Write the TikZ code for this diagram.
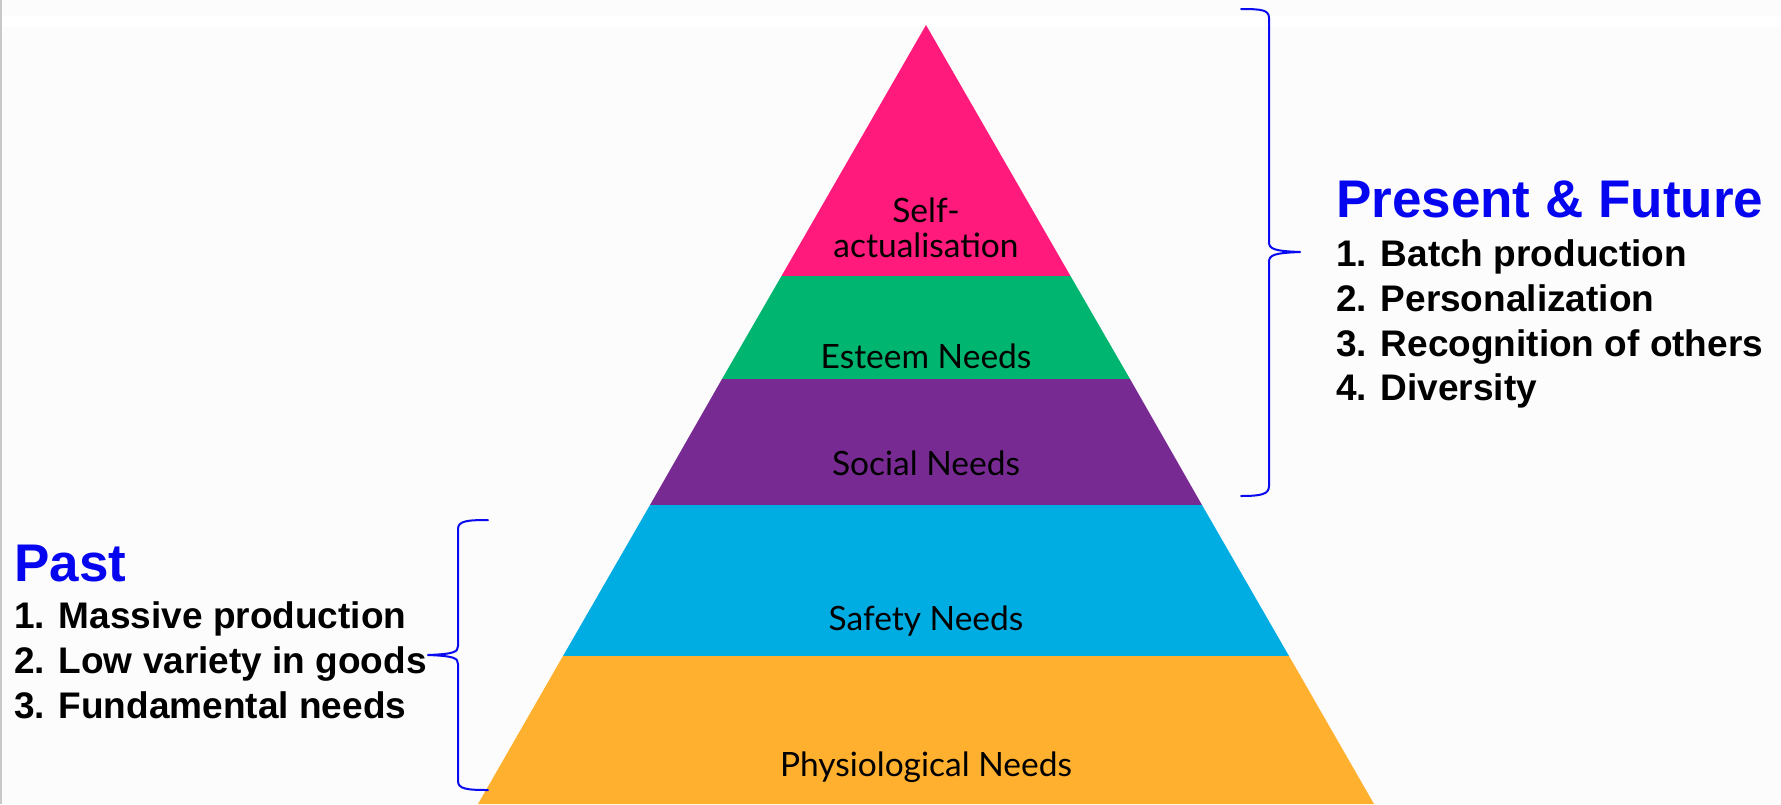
\documentclass[tikz,border=0pt]{standalone}
\usepackage{fontspec}
\setmainfont{Liberation Sans}
\newfontfamily\gillfont{Lato}
\definecolor{bgc}{RGB}{252,252,252}
\definecolor{edgegray}{RGB}{200,200,200}
\definecolor{lpink}{RGB}{255,26,124}
\definecolor{lgreen}{RGB}{0,181,112}
\definecolor{lpurple}{RGB}{119,43,146}
\definecolor{lblue}{RGB}{0,173,227}
\definecolor{lorange}{RGB}{255,176,46}
\definecolor{bracec}{RGB}{10,10,240}
\definecolor{titlec}{RGB}{5,5,240}
\tikzset{
  lbl/.style={inner sep=0pt, align=center, text=black, font=\gillfont\fontsize{33.5}{35}\selectfont},
  ttl/.style={inner sep=0pt, anchor=base west, text=titlec, font=\bfseries\fontsize{53}{60}\selectfont},
  itm/.style={inner sep=0pt, anchor=base west, text=black, font=\bfseries\fontsize{37}{42}\selectfont},
  bracestyle/.style={draw=bracec, line width=2pt, line cap=round, line join=round}
}
\begin{document}
\begin{tikzpicture}[x=1pt,y=-1pt]
\useasboundingbox (0,0) rectangle (1781,804);
\fill[bgc] (0,0) rectangle (1781,804);
\fill[white] (0,16) rectangle (1781,27);
\fill[edgegray] (0,0) rectangle (2,804);
% pyramid layers
\fill[lpink] (926,25) -- (1070.5,276) -- (781.5,276) -- cycle;
\fill[lgreen] (781.5,276) -- (1070.5,276) -- (1130,379) -- (722,379) -- cycle;
\fill[lpurple] (722,379) -- (1130,379) -- (1202,505) -- (650,505) -- cycle;
\fill[lblue] (650,505) -- (1202,505) -- (1289,656) -- (563,656) -- cycle;
\fill[lorange] (563,656) -- (1289,656) -- (1374,804) -- (478,804) -- cycle;
% pyramid labels
\node[lbl] (self) at (926,228) {Self-\\actualisation};
\node[lbl] (esteem) at (926,356) {Esteem Needs};
\node[lbl] (social) at (926,463) {Social Needs};
\node[lbl] (safety) at (926,621) {Safety Needs};
\node[lbl] (phys) at (926,767) {Physiological Needs};
% right brace
\coordinate (rb1) at (1241,9);
\coordinate (rb2) at (1241,496);
\coordinate (rtip) at (1300,252);
\draw[bracestyle] (rb1) .. controls (1262,9) and (1269,10) .. (1269,18)
  -- (1269,242) .. controls (1269,249) and (1274,251) .. (rtip)
  .. controls (1274,253) and (1269,255) .. (1269,262)
  -- (1269,486) .. controls (1269,494) and (1262,496) .. (rb2);
% left brace
\coordinate (lb1) at (488,520);
\coordinate (lb2) at (488,790);
\coordinate (ltip) at (428,655);
\draw[bracestyle] (lb1) .. controls (467,520) and (458,521) .. (458,529)
  -- (458,646) .. controls (458,652) and (454,654) .. (ltip)
  .. controls (454,656) and (458,658) .. (458,664)
  -- (458,781) .. controls (458,789) and (467,790) .. (lb2);
% right text
\node[ttl] (pf) at (1336,217) {Present \& Future};
\node[itm] (pf1) at (1336,266) {1. Batch production};
\node[itm] (pf2) at (1336,311) {2. Personalization};
\node[itm] (pf3) at (1336,356) {3. Recognition of others};
\node[itm] (pf4) at (1336,400) {4. Diversity};
% left text
\node[ttl] (past) at (14,581) {Past};
\node[itm] (past1) at (14,628) {1. Massive production};
\node[itm] (past2) at (14,673) {2. Low variety in goods};
\node[itm] (past3) at (14,718) {3. Fundamental needs};
\end{tikzpicture}
\end{document}
